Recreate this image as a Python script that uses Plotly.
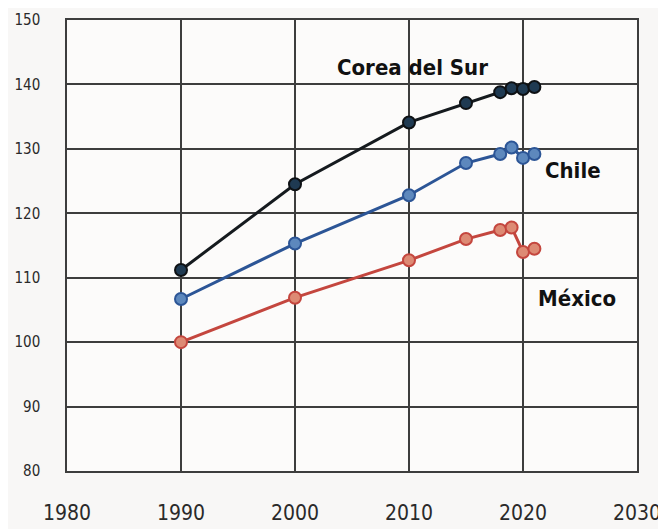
import plotly.graph_objects as go

years = [1990, 2000, 2010, 2015, 2018, 2019, 2020, 2021]
corea = [111.2, 124.5, 134.1, 137.1, 138.8, 139.4, 139.3, 139.6]
chile = [106.7, 115.3, 122.8, 127.8, 129.2, 130.2, 128.6, 129.2]
mexico = [100.0, 106.9, 112.7, 116.0, 117.4, 117.8, 114.0, 114.5]

series_names = ["Corea del Sur", "Chile", "México"]
x_ticks = [1980, 1990, 2000, 2010, 2020, 2030]
y_ticks = [80, 90, 100, 110, 120, 130, 140, 150]

label_font = "DejaVu Sans Condensed, Liberation Sans Narrow, sans-serif"

fig = go.Figure()

styles = [
    (corea, "#151a1e", "#1f3a52", "#0e1114"),
    (chile, "#2c5596", "#5d88bd", "#2c5596"),
    (mexico, "#c4463e", "#dd8a74", "#c4463e"),
]
for name, (vals, lc, mf, ml) in zip(series_names, styles):
    fig.add_trace(go.Scatter(
        x=years, y=vals, mode="lines+markers", name=name,
        line=dict(color=lc, width=3),
        marker=dict(size=12, color=mf, line=dict(color=ml, width=2)),
        showlegend=False,
    ))

fig.add_annotation(x=2010.3, y=142.6, text="<b>Corea del Sur</b>", showarrow=False,
                   font=dict(family=label_font, size=22, color="#111111"))
fig.add_annotation(x=2024.4, y=126.7, text="<b>Chile</b>", showarrow=False,
                   font=dict(family=label_font, size=22, color="#111111"))
fig.add_annotation(x=2024.7, y=106.7, text="<b>México</b>", showarrow=False,
                   font=dict(family=label_font, size=22, color="#111111"))

fig.update_layout(
    width=658, height=521,
    margin=dict(l=59, r=29, t=12, b=58),
    paper_bgcolor="#f8f7f6",
    plot_bgcolor="#fcfbfa",
)
fig.update_xaxes(
    range=[1980, 2030], tickvals=x_ticks, ticktext=[str(v) for v in x_ticks],
    showgrid=True, gridcolor="#3d3d3d", gridwidth=1.5,
    showline=True, linecolor="#3d3d3d", linewidth=1.5, mirror=True,
    zeroline=False, ticks="", ticklabelstandoff=22, automargin=False,
    tickfont=dict(family=label_font, size=21, color="#2a2a2a"),
)
fig.update_yaxes(
    range=[80, 150], tickvals=y_ticks, ticktext=[str(v) for v in y_ticks],
    showgrid=True, gridcolor="#3d3d3d", gridwidth=1.5,
    showline=True, linecolor="#3d3d3d", linewidth=1.5, mirror=True,
    zeroline=False, ticks="", ticklabelstandoff=22, automargin=False,
    tickfont=dict(family=label_font, size=15, color="#2a2a2a"),
)

fig.write_html("out.html")
